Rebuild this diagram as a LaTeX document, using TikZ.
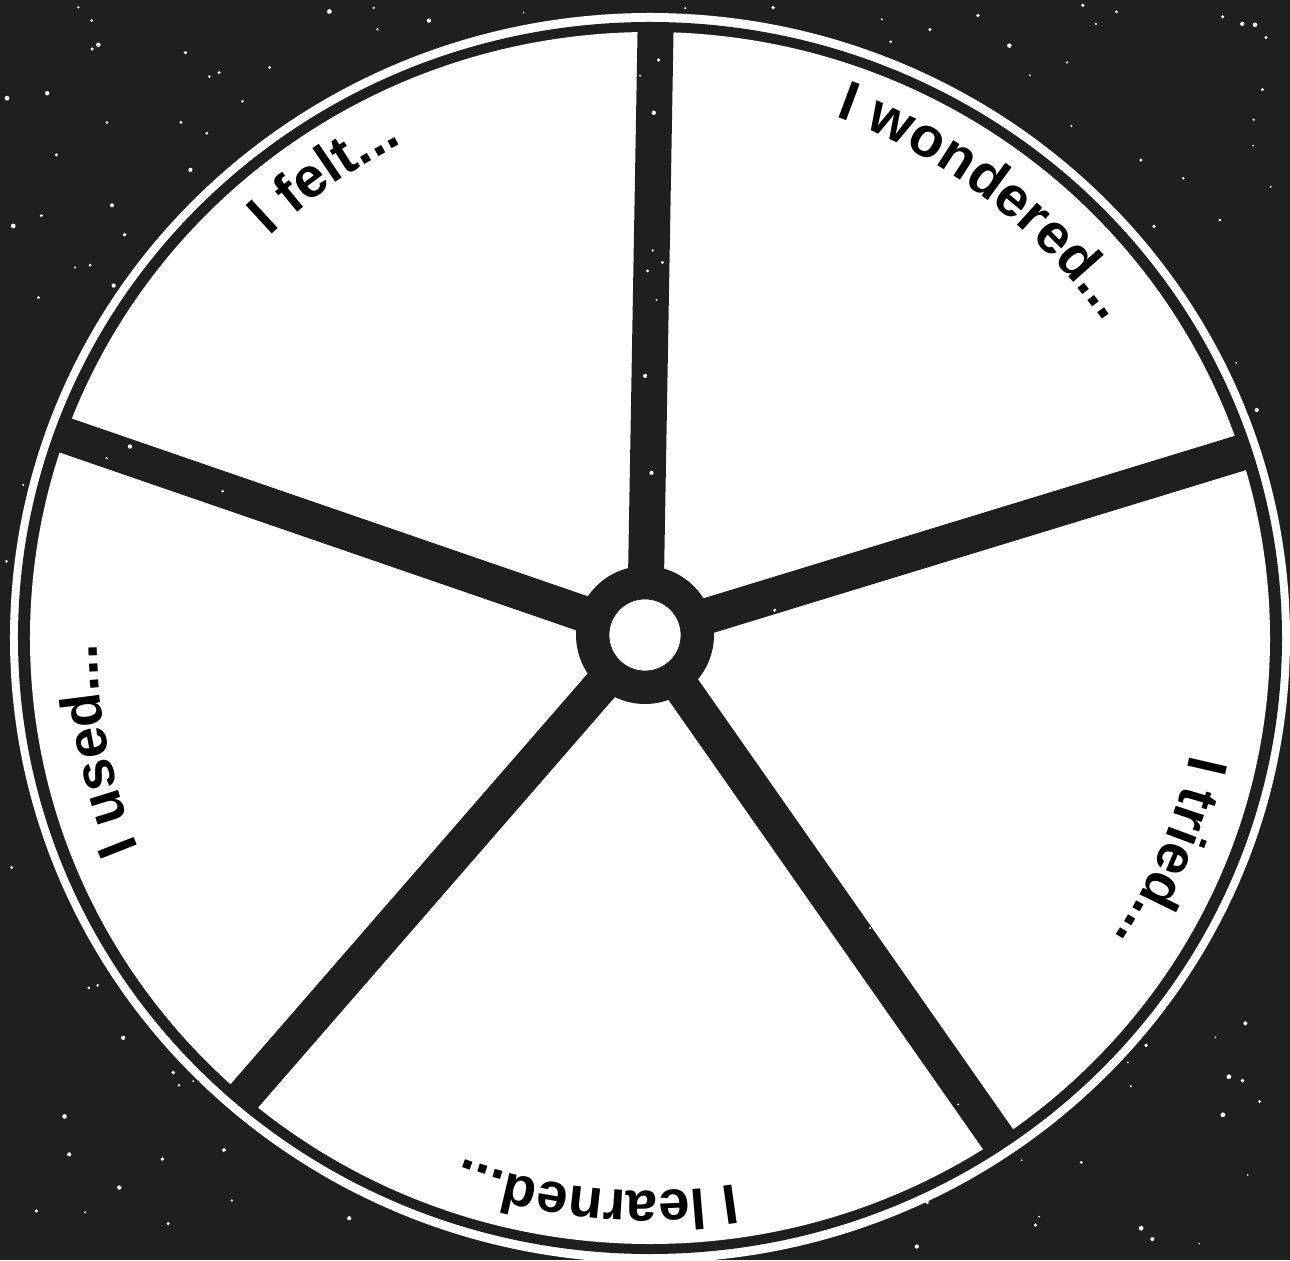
\documentclass[tikz,border=0pt]{standalone}
\usepackage{fontspec}
\newfontfamily\rimfont{Liberation Sans}
\usetikzlibrary{decorations.text}
\definecolor{ink}{HTML}{1F1F1F}

\begin{document}
\begin{tikzpicture}[x=0.02cm, y=0.02cm,
  spoke/.style={draw=ink, line width=0.72cm},
  star/.style={fill=white},
  rimlabel/.style={decorate, decoration={text along path, text align=center,
      text={|\rimfont\bfseries\fontsize{32}{36}\selectfont|#1}}},
]
  \useasboundingbox (-650,-622) rectangle (640,638);
  \fill[ink] (-650,-622) rectangle (640,638);
  \pgfmathsetseed{42}
  \foreach \k in {1,...,400}
    \fill[star] ({rnd*1280-645},{rnd*1250-617}) circle[radius={0.8+rnd*1.6}];
  \fill[white] (0,0) ellipse[x radius=640, y radius=625];
  \fill[ink] (0,0) ellipse[x radius=632, y radius=616];
  \fill[white] (0,0) ellipse[x radius=620, y radius=606];
  \node[circle, fill=ink, inner sep=0pt, minimum size=2.76cm] (hub) at (-5,3) {};
  \foreach \a [count=\i] in {89,17,-55,-131,161}
    \path (hub.center) ++(\a:700) coordinate (rim\i);
  \begin{scope}
    \clip (0,0) ellipse[x radius=626, y radius=611];
    \foreach \i in {1,...,5}
      \draw[spoke] (hub.center) -- (rim\i);
    \foreach \a in {89,17,-55,-131,161}
      \foreach \k in {1,...,9}
        \fill[star] (hub.center) ++(\a:{80+rnd*520}) ++(\a+90:{rnd*22-11}) circle[radius={1+rnd*1.2}];
  \end{scope}
  \node[circle, fill=white, draw=ink, inner sep=0pt, minimum size=1.44cm] (hole) at (hub.center) {};
  \path[rimlabel={I felt...}] (165:553) arc[start angle=165, end angle=85, radius=553];
  \path[rimlabel={I wondered...}] (92.6:553) arc[start angle=92.6, end angle=12.6, radius=553];
  \path[rimlabel={I tried...}] (17.5:553) arc[start angle=17.5, end angle=-62.5, radius=553];
  \path[rimlabel={I learned...}] (-55.5:553) arc[start angle=-55.5, end angle=-135.5, radius=553];
  \path[rimlabel={I used...}] (231.5:553) arc[start angle=231.5, end angle=151.5, radius=553];
\end{tikzpicture}
\end{document}
